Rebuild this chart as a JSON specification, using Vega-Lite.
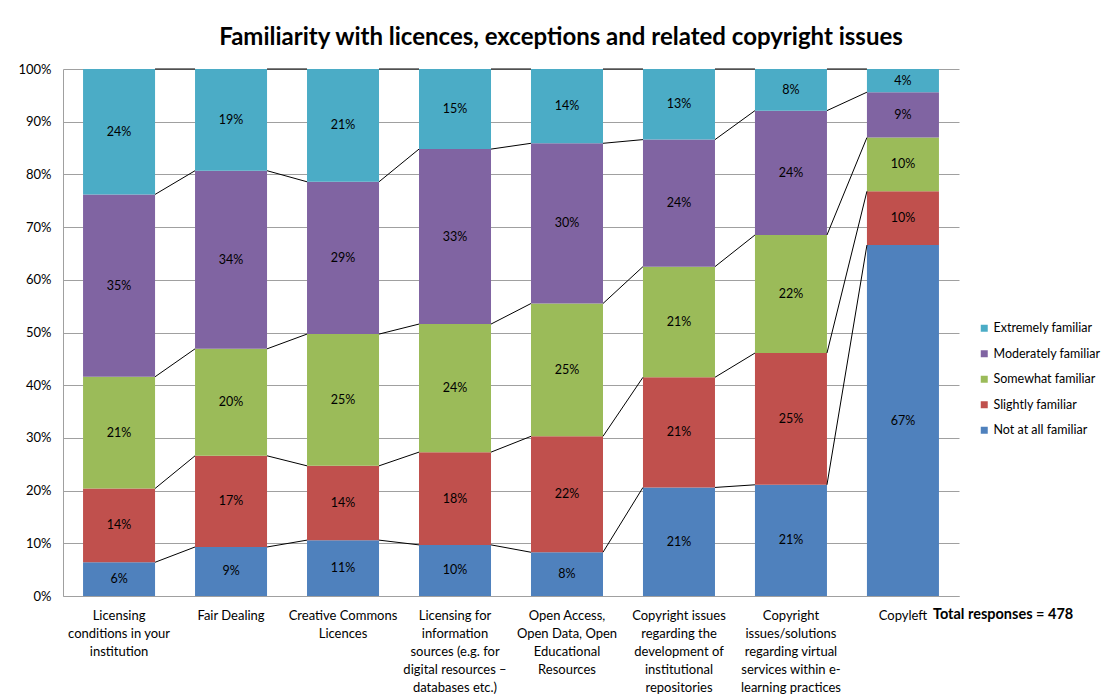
{
  "$schema": "https://vega.github.io/schema/vega-lite/v6.json",
  "width": 896,
  "height": 527,
  "autosize": {"type": "none"},
  "padding": {"left": 63, "top": 69, "right": 147, "bottom": 102},
  "background": "white",
  "config": {"font": "Lato", "view": {"stroke": null}},
  "title": {
    "text": "Familiarity with licences, exceptions and related copyright issues",
    "fontSize": 24,
    "fontWeight": "bold",
    "color": "black",
    "anchor": "middle",
    "frame": "group",
    "dx": 50,
    "baseline": "alphabetic",
    "offset": -6
  },
  "datasets": {
    "survey": [
      {"issue": "Licensing conditions in your institution", "familiarity": "Not at all familiar", "level": 1, "share": 0.064},
      {"issue": "Licensing conditions in your institution", "familiarity": "Slightly familiar", "level": 2, "share": 0.140},
      {"issue": "Licensing conditions in your institution", "familiarity": "Somewhat familiar", "level": 3, "share": 0.212},
      {"issue": "Licensing conditions in your institution", "familiarity": "Moderately familiar", "level": 4, "share": 0.346},
      {"issue": "Licensing conditions in your institution", "familiarity": "Extremely familiar", "level": 5, "share": 0.238},
      {"issue": "Fair Dealing", "familiarity": "Not at all familiar", "level": 1, "share": 0.093},
      {"issue": "Fair Dealing", "familiarity": "Slightly familiar", "level": 2, "share": 0.173},
      {"issue": "Fair Dealing", "familiarity": "Somewhat familiar", "level": 3, "share": 0.203},
      {"issue": "Fair Dealing", "familiarity": "Moderately familiar", "level": 4, "share": 0.338},
      {"issue": "Fair Dealing", "familiarity": "Extremely familiar", "level": 5, "share": 0.193},
      {"issue": "Creative Commons Licences", "familiarity": "Not at all familiar", "level": 1, "share": 0.106},
      {"issue": "Creative Commons Licences", "familiarity": "Slightly familiar", "level": 2, "share": 0.141},
      {"issue": "Creative Commons Licences", "familiarity": "Somewhat familiar", "level": 3, "share": 0.250},
      {"issue": "Creative Commons Licences", "familiarity": "Moderately familiar", "level": 4, "share": 0.289},
      {"issue": "Creative Commons Licences", "familiarity": "Extremely familiar", "level": 5, "share": 0.214},
      {"issue": "Licensing for information sources (e.g. for digital resources – databases etc.)", "familiarity": "Not at all familiar", "level": 1, "share": 0.097},
      {"issue": "Licensing for information sources (e.g. for digital resources – databases etc.)", "familiarity": "Slightly familiar", "level": 2, "share": 0.176},
      {"issue": "Licensing for information sources (e.g. for digital resources – databases etc.)", "familiarity": "Somewhat familiar", "level": 3, "share": 0.243},
      {"issue": "Licensing for information sources (e.g. for digital resources – databases etc.)", "familiarity": "Moderately familiar", "level": 4, "share": 0.332},
      {"issue": "Licensing for information sources (e.g. for digital resources – databases etc.)", "familiarity": "Extremely familiar", "level": 5, "share": 0.152},
      {"issue": "Open Access, Open Data, Open Educational Resources", "familiarity": "Not at all familiar", "level": 1, "share": 0.083},
      {"issue": "Open Access, Open Data, Open Educational Resources", "familiarity": "Slightly familiar", "level": 2, "share": 0.220},
      {"issue": "Open Access, Open Data, Open Educational Resources", "familiarity": "Somewhat familiar", "level": 3, "share": 0.252},
      {"issue": "Open Access, Open Data, Open Educational Resources", "familiarity": "Moderately familiar", "level": 4, "share": 0.304},
      {"issue": "Open Access, Open Data, Open Educational Resources", "familiarity": "Extremely familiar", "level": 5, "share": 0.141},
      {"issue": "Copyright issues regarding the development of institutional repositories", "familiarity": "Not at all familiar", "level": 1, "share": 0.206},
      {"issue": "Copyright issues regarding the development of institutional repositories", "familiarity": "Slightly familiar", "level": 2, "share": 0.209},
      {"issue": "Copyright issues regarding the development of institutional repositories", "familiarity": "Somewhat familiar", "level": 3, "share": 0.210},
      {"issue": "Copyright issues regarding the development of institutional repositories", "familiarity": "Moderately familiar", "level": 4, "share": 0.241},
      {"issue": "Copyright issues regarding the development of institutional repositories", "familiarity": "Extremely familiar", "level": 5, "share": 0.134},
      {"issue": "Copyright issues/solutions regarding virtual services within e-learning practices", "familiarity": "Not at all familiar", "level": 1, "share": 0.211},
      {"issue": "Copyright issues/solutions regarding virtual services within e-learning practices", "familiarity": "Slightly familiar", "level": 2, "share": 0.250},
      {"issue": "Copyright issues/solutions regarding virtual services within e-learning practices", "familiarity": "Somewhat familiar", "level": 3, "share": 0.224},
      {"issue": "Copyright issues/solutions regarding virtual services within e-learning practices", "familiarity": "Moderately familiar", "level": 4, "share": 0.236},
      {"issue": "Copyright issues/solutions regarding virtual services within e-learning practices", "familiarity": "Extremely familiar", "level": 5, "share": 0.079},
      {"issue": "Copyleft", "familiarity": "Not at all familiar", "level": 1, "share": 0.666},
      {"issue": "Copyleft", "familiarity": "Slightly familiar", "level": 2, "share": 0.102},
      {"issue": "Copyleft", "familiarity": "Somewhat familiar", "level": 3, "share": 0.102},
      {"issue": "Copyleft", "familiarity": "Moderately familiar", "level": 4, "share": 0.086},
      {"issue": "Copyleft", "familiarity": "Extremely familiar", "level": 5, "share": 0.044}
    ]
  },
  "data": {"name": "survey"},
  "layer": [
    {
      "mark": {"type": "bar"},
      "encoding": {
        "x": {
          "field": "issue",
          "type": "nominal",
          "scale": {
            "domain": [
              "Licensing conditions in your institution",
              "Fair Dealing",
              "Creative Commons Licences",
              "Licensing for information sources (e.g. for digital resources – databases etc.)",
              "Open Access, Open Data, Open Educational Resources",
              "Copyright issues regarding the development of institutional repositories",
              "Copyright issues/solutions regarding virtual services within e-learning practices",
              "Copyleft"
            ],
            "paddingInner": 0.357,
            "paddingOuter": 0.179
          },
          "axis": {
            "title": null,
            "labelAngle": 0,
            "labelAlign": "center",
            "labelBaseline": "top",
            "labelFontSize": 13,
            "labelColor": "black",
            "labelLineHeight": 18,
            "labelPadding": 13,
            "labelLimit": 0,
            "labelOverlap": false,
            "labelBound": false,
            "ticks": false,
            "domainColor": "#A0A0A0",
            "labelExpr": "datum.value == 'Licensing conditions in your institution' ? ['Licensing', 'conditions in your', 'institution'] : datum.value == 'Creative Commons Licences' ? ['Creative Commons', 'Licences'] : datum.value == 'Licensing for information sources (e.g. for digital resources – databases etc.)' ? ['Licensing for', 'information', 'sources (e.g. for', 'digital resources –', 'databases etc.)'] : datum.value == 'Open Access, Open Data, Open Educational Resources' ? ['Open Access,', 'Open Data, Open', 'Educational', 'Resources'] : datum.value == 'Copyright issues regarding the development of institutional repositories' ? ['Copyright issues', 'regarding the', 'development of', 'institutional', 'repositories'] : datum.value == 'Copyright issues/solutions regarding virtual services within e-learning practices' ? ['Copyright', 'issues/solutions', 'regarding virtual', 'services within e-', 'learning practices'] : datum.value"
          }
        },
        "y": {
          "field": "share",
          "type": "quantitative",
          "stack": "normalize",
          "scale": {"domain": [0, 1]},
          "axis": {
            "title": null,
            "format": "%",
            "values": [0, 0.1, 0.2, 0.3, 0.4, 0.5, 0.6, 0.7, 0.8, 0.9, 1],
            "labelOverlap": false,
            "grid": true,
            "gridColor": "#A0A0A0",
            "domainColor": "#A0A0A0",
            "ticks": false,
            "labelPadding": 12,
            "labelFontSize": 13,
            "labelColor": "black"
          }
        },
        "color": {
          "field": "familiarity",
          "type": "nominal",
          "scale": {
            "domain": ["Extremely familiar", "Moderately familiar", "Somewhat familiar", "Slightly familiar", "Not at all familiar"],
            "range": ["#4BACC6", "#8064A2", "#9BBB59", "#C0504D", "#4F81BD"]
          },
          "legend": {
            "title": null,
            "orient": "none",
            "legendX": 915,
            "legendY": 253,
            "symbolType": "square",
            "symbolSize": 49,
            "symbolStrokeWidth": 0,
            "labelFontSize": 12.5,
            "labelColor": "black",
            "labelOffset": 3,
            "rowPadding": 12.5
          }
        },
        "order": {"field": "level", "type": "quantitative", "sort": "ascending"}
      }
    },
    {
      "mark": {"type": "text", "fontSize": 12.5, "color": "black", "baseline": "middle", "align": "center"},
      "encoding": {
        "x": {"field": "issue", "type": "nominal"},
        "y": {
          "field": "share",
          "type": "quantitative",
          "stack": "normalize",
          "bandPosition": 0.5,
          "axis": {
            "title": null,
            "format": "%",
            "values": [0, 0.1, 0.2, 0.3, 0.4, 0.5, 0.6, 0.7, 0.8, 0.9, 1],
            "labelOverlap": false,
            "grid": true,
            "gridColor": "#A0A0A0",
            "domainColor": "#A0A0A0",
            "ticks": false,
            "labelPadding": 12,
            "labelFontSize": 13,
            "labelColor": "black"
          }
        },
        "detail": {"field": "familiarity"},
        "order": {"field": "level", "type": "quantitative", "sort": "ascending"},
        "text": {"field": "share", "type": "quantitative", "format": ".0%"}
      }
    },
    {
      "transform": [
        {"stack": "share", "groupby": ["issue"], "sort": [{"field": "level", "order": "ascending"}], "as": ["cum0", "cum"], "offset": "normalize"},
        {"window": [{"op": "lead", "field": "cum", "as": "next_cum"}, {"op": "lead", "field": "issue", "as": "next_issue"}], "groupby": ["familiarity"]},
        {"filter": "datum.next_issue != null"}
      ],
      "mark": {"type": "rule", "color": "black", "strokeWidth": 1},
      "encoding": {
        "x": {"field": "issue", "type": "nominal", "bandPosition": 1},
        "x2": {"field": "next_issue", "bandPosition": 0},
        "y": {
          "field": "cum",
          "type": "quantitative",
          "axis": {
            "title": null,
            "format": "%",
            "values": [0, 0.1, 0.2, 0.3, 0.4, 0.5, 0.6, 0.7, 0.8, 0.9, 1],
            "labelOverlap": false,
            "grid": true,
            "gridColor": "#A0A0A0",
            "domainColor": "#A0A0A0",
            "ticks": false,
            "labelPadding": 12,
            "labelFontSize": 13,
            "labelColor": "black"
          }
        },
        "y2": {"field": "next_cum"}
      }
    },
    {
      "data": {"values": [{"note": "Total responses = 478"}]},
      "mark": {"type": "text", "fontSize": 14.5, "fontWeight": "bold", "color": "black", "align": "left", "baseline": "top", "dx": 30, "dy": 12},
      "encoding": {
        "x": {"datum": "Copyleft"},
        "y": {"datum": 0},
        "text": {"field": "note"}
      }
    }
  ]
}
